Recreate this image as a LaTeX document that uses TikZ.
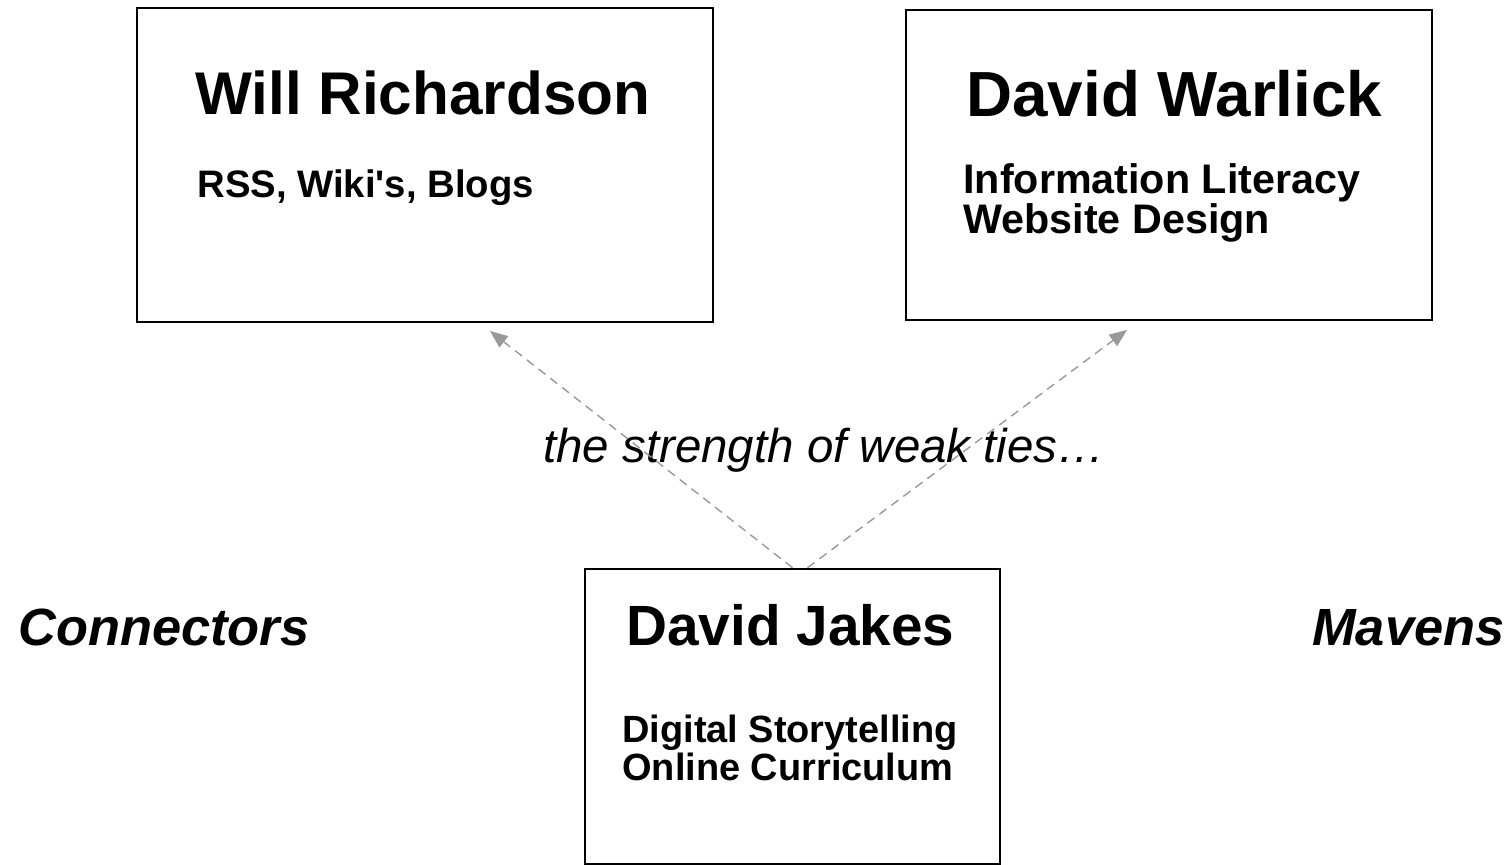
\documentclass[tikz,border=0pt]{standalone}
\usepackage{fontspec}
\setmainfont{Liberation Sans}[Ligatures=TeXOff]
\usetikzlibrary{arrows.meta}
\newcommand{\sizept}[2]{\fontsize{#1}{#2}\selectfont}

\begin{document}
\begin{tikzpicture}[x=0.02cm,y=-0.02cm,
        personbox/.style={draw,line width=1.5pt,rectangle,inner sep=0pt},
        textline/.style={anchor=base west,inner sep=0pt,align=left},
        tie/.style={draw=gray!80,line width=0.8pt,dash pattern=on 5pt off 3.5pt,
                    -{Triangle[length=10pt,width=8pt]}}]
    \useasboundingbox (0,0) rectangle (1512,865);

    % the three people
    \node[personbox,minimum width=11.52cm,minimum height=6.28cm] (willbox) at (425,165) {};
    \node[personbox,minimum width=10.52cm,minimum height=6.2cm] (warlickbox) at (1169,165) {};
    \node[personbox,minimum width=8.3cm,minimum height=5.9cm] (jakesbox) at (792.5,716.5) {};

    \node[textline,font=\sizept{34.3pt}{36pt}\bfseries] (willname) at (195,115) {Will Richardson};
    \node[textline,font=\sizept{21.8pt}{21pt}\bfseries] (willtopics) at (197,197) {RSS, Wiki's, Blogs};

    % multi-line nodes: base is the last line
    \node[textline,font=\sizept{36.3pt}{36pt}\bfseries] (warlickname) at (966,117) {David Warlick};
    \node[textline,font=\sizept{23.5pt}{21pt}\bfseries] (warlicktopics) at (963,234)
        {Information Literacy\\Website Design};

    \node[textline,font=\sizept{32.3pt}{36pt}\bfseries] (jakesname) at (626,645) {David Jakes};
    \node[textline,font=\sizept{21.6pt}{19.8pt}\bfseries] (jakestopics) at (622,780)
        {Digital Storytelling\\Online Curriculum};

    % labels
    \node[textline,font=\sizept{27pt}{30pt}\itshape] (tiesnote) at (543,462) {the strength of weak ties…};
    \node[textline,font=\sizept{29.8pt}{30pt}\bfseries\itshape] (connectors) at (18,645) {Connectors};
    \node[textline,font=\sizept{29.8pt}{30pt}\bfseries\itshape] (mavens) at (1312,645) {Mavens};

    % weak ties
    \coordinate (willtip) at (490,331);
    \coordinate (warlicktip) at (1127,330);
    \draw[tie] (jakesbox.north) -- (willtip);
    \draw[tie] ([xshift=0.3cm]jakesbox.north) -- (warlicktip);
\end{tikzpicture}
\end{document}
